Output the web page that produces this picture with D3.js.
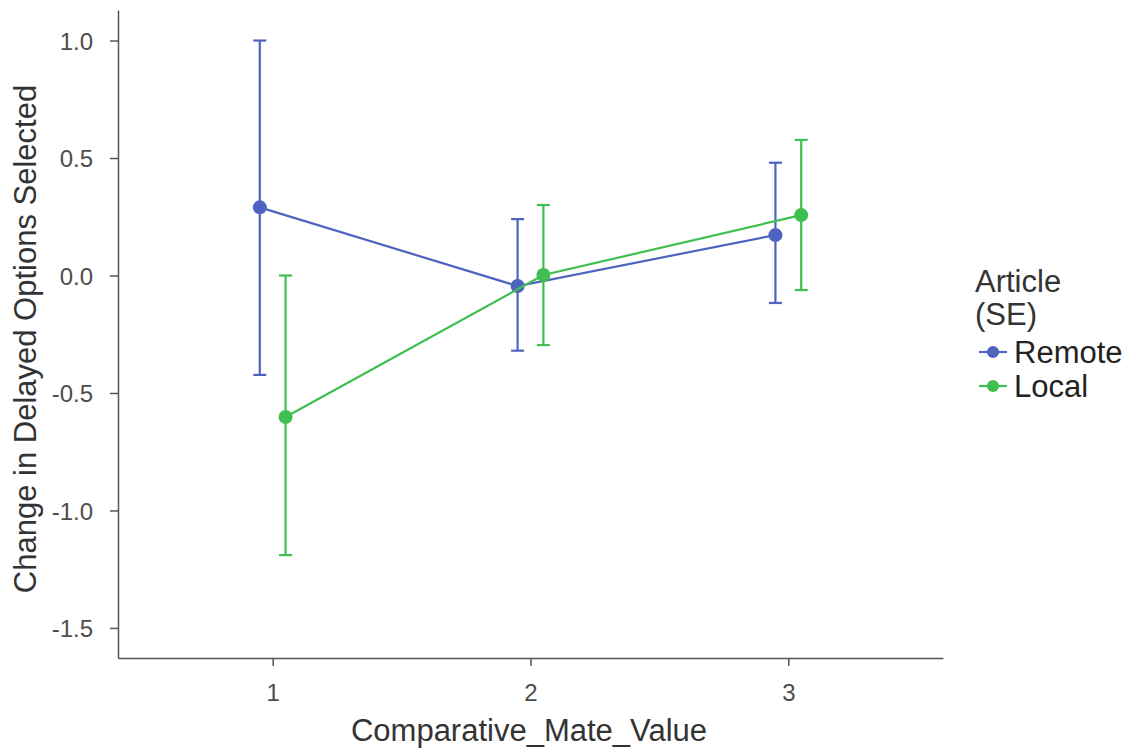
<!DOCTYPE html>
<html><head><meta charset="utf-8">
<script src="https://cdn.jsdelivr.net/npm/d3@7"></script>
<style>body{margin:0;background:#fff}svg{display:block}text{font-family:"Liberation Sans",Arial,sans-serif}</style>
</head><body><svg id="c" width="1131" height="751"></svg>
<script>
const categories = [1, 2, 3];
const seriesNames = ["Remote", "Local"];
const seriesColors = ["#4f63c0", "#3fbf4f"];
const remoteMean = [0.29, -0.045, 0.172];
const remoteLow = [-0.423, -0.32, -0.117];
const remoteHigh = [1.0, 0.24, 0.48];
const localMean = [-0.602, 0.002, 0.257];
const localLow = [-1.19, -0.296, -0.062];
const localHigh = [0.0, 0.30, 0.577];
const yTicks = [-1.5, -1.0, -0.5, 0.0, 0.5, 1.0];

const series = [
  {name: seriesNames[0], color: seriesColors[0], dodge: -0.05, mean: remoteMean, lo: remoteLow, hi: remoteHigh},
  {name: seriesNames[1], color: seriesColors[1], dodge: 0.05, mean: localMean, lo: localLow, hi: localHigh}
];

const svg = d3.select("#c");
const L = 118, R = 943, T = 10, B = 658;
const x = d3.scaleLinear().domain([0.4, 3.6]).range([L, R]);
const y = d3.scaleLinear().domain([-1.628, 1.13]).range([B, T]);
const fmt = v => d3.format(".1f")(v).replace("\u2212", "-");

// axes
const ya = svg.append("g").attr("transform", `translate(${L},0)`)
  .call(d3.axisLeft(y).tickValues(yTicks).tickFormat(fmt).tickSize(8).tickSizeOuter(0));
const xa = svg.append("g").attr("transform", `translate(0,${B})`)
  .call(d3.axisBottom(x).tickValues(categories).tickFormat(d3.format("d")).tickSize(8).tickSizeOuter(0));
[ya, xa].forEach(g => {
  g.attr("font-size", 24).attr("font-family", "Liberation Sans, Arial, sans-serif");
  g.select(".domain").attr("stroke", "#555").attr("stroke-width", 1.5);
  g.selectAll(".tick line").attr("stroke", "#555").attr("stroke-width", 1.5);
  g.selectAll(".tick text").attr("fill", "#4d4d4d").attr("font-size", 24).style("font-size", "24px");
});
ya.selectAll(".tick text").attr("x", -25).attr("dy", "0.36em");
xa.selectAll(".tick text").attr("y", 43).attr("dy", null);

svg.append("text").attr("x", 529).attr("y", 741).attr("text-anchor", "middle")
  .attr("fill", "#333").style("font-size", "31px").text("Comparative_Mate_Value");
svg.append("text").attr("transform", "translate(36,339) rotate(-90)").attr("text-anchor", "middle")
  .attr("fill", "#333").style("font-size", "31px").text("Change in Delayed Options Selected");

// series
const line = d3.line();
series.forEach(s => {
  const g = svg.append("g");
  const pts = categories.map((c, i) => [x(c + s.dodge), y(s.mean[i])]);
  g.append("path").attr("d", line(pts)).attr("fill", "none").attr("stroke", s.color).attr("stroke-width", 2.2);
  categories.forEach((c, i) => {
    const cx = x(c + s.dodge);
    g.append("line").attr("x1", cx).attr("x2", cx).attr("y1", y(s.lo[i])).attr("y2", y(s.hi[i]))
      .attr("stroke", s.color).attr("stroke-width", 2.2);
    [s.lo[i], s.hi[i]].forEach(v => {
      g.append("line").attr("x1", cx - 6.5).attr("x2", cx + 6.5).attr("y1", y(v)).attr("y2", y(v))
        .attr("stroke", s.color).attr("stroke-width", 2.2);
    });
    g.append("circle").attr("cx", cx).attr("cy", y(s.mean[i])).attr("r", 7).attr("fill", s.color);
  });
});

// legend
const lg = svg.append("g");
lg.append("text").attr("x", 975).attr("y", 292).attr("fill", "#333").style("font-size", "31px").text("Article");
lg.append("text").attr("x", 975).attr("y", 325).attr("fill", "#333").style("font-size", "31px").text("(SE)");
series.forEach((s, i) => {
  const yy = 352 + i * 34;
  lg.append("line").attr("x1", 979).attr("x2", 1007).attr("y1", yy).attr("y2", yy).attr("stroke", s.color).attr("stroke-width", 2.2);
  lg.append("circle").attr("cx", 993).attr("cy", yy).attr("r", 6).attr("fill", s.color);
  lg.append("text").attr("x", 1014).attr("y", yy + 11).attr("fill", "#222").style("font-size", "31px").text(s.name);
});
</script></body></html>
